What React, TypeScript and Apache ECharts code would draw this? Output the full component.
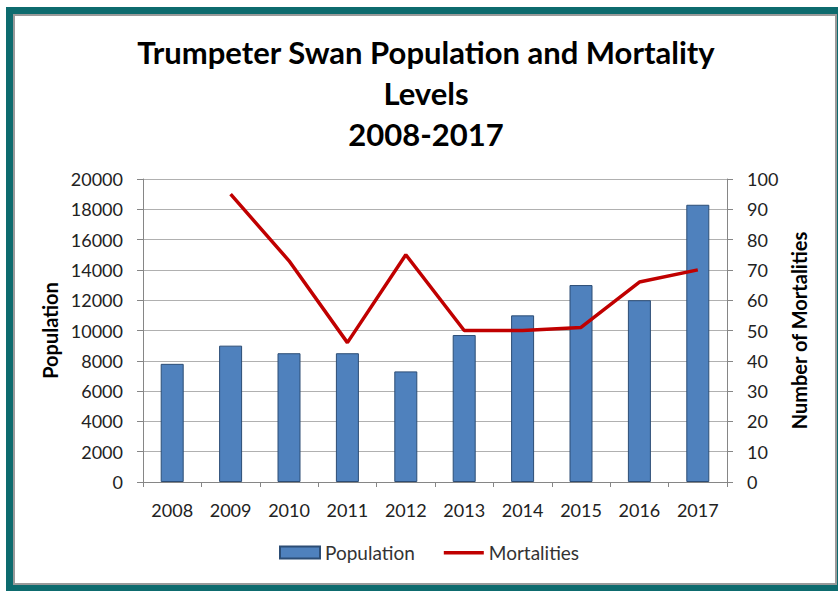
import React, { useEffect, useRef } from "react";
import * as echarts from "echarts";

const years = ["2008", "2009", "2010", "2011", "2012", "2013", "2014", "2015", "2016", "2017"];
const population = [7800, 9000, 8500, 8500, 7300, 9700, 11000, 13000, 12000, 18300];
const mortalities: (number | null)[] = [null, 95, 73, 46, 75, 50, 50, 51, 66, 70];
const titleLines = ["Trumpeter Swan Population and Mortality", "Levels", "2008-2017"];

const FONT = "Lato, 'Open Sans', sans-serif";

export default function App() {
  const ref = useRef<HTMLDivElement>(null);
  useEffect(() => {
    if (!ref.current) return;
    const chart = echarts.init(ref.current, null, { renderer: "svg" });
    const axisGrey = "#868686";
    chart.setOption({
      animation: false,
      backgroundColor: "#ffffff",
      textStyle: { fontFamily: FONT },
      graphic: {
        elements: [
          { type: "rect", z: -10, shape: { x: 6, y: 7, width: 860, height: 600 }, style: { fill: "#0D6B6E" } },
          { type: "rect", z: -9, shape: { x: 13, y: 14, width: 824, height: 571 }, style: { fill: "#9a9a9a" } },
          { type: "rect", z: -8, shape: { x: 15, y: 16, width: 820, height: 567 }, style: { fill: "#ffffff" } },
          {
            type: "text",
            z: 10,
            x: 426,
            y: 93,
            style: {
              text: titleLines.join("\n"),
              fontFamily: FONT,
              fontWeight: "bold",
              fontSize: 31,
              lineHeight: 41,
              fill: "#000000",
              align: "center",
              verticalAlign: "middle",
            },
          },
        ],
      },
      grid: { left: 143, right: 111, top: 179, bottom: 109, containLabel: false },
      legend: {
        left: 279,
        top: 543,
        padding: 0,
        itemWidth: 40,
        itemHeight: 12,
        itemGap: 29,
        textStyle: { fontFamily: FONT, fontSize: 19, color: "#333333" },
        data: [
          { name: "Population", icon: "rect" },
          {
            name: "Mortalities",
            icon: "path://M0,0 L40,0 M0,4.5 L40,4.5 L40,8 L0,8 Z M0,12 L40,12",
            itemStyle: { color: "#C00000", borderWidth: 0 },
          },
        ],
      },
      xAxis: {
        type: "category",
        data: years,
        boundaryGap: true,
        axisLine: { lineStyle: { color: axisGrey, width: 1 } },
        axisTick: { show: true, length: 5, lineStyle: { color: axisGrey } },
        axisLabel: { fontFamily: FONT, fontSize: 18, color: "#222222", margin: 19 },
      },
      yAxis: [
        {
          type: "value",
          min: 0,
          max: 20000,
          interval: 2000,
          name: "Population",
          nameLocation: "middle",
          nameRotate: 90,
          nameGap: 81,
          nameTextStyle: { fontFamily: FONT, fontWeight: "bold", fontSize: 20, color: "#000000" },
          axisLine: { show: true, lineStyle: { color: axisGrey } },
          axisTick: { show: true, length: 6, lineStyle: { color: axisGrey } },
          axisLabel: { fontFamily: FONT, fontSize: 18, color: "#222222", margin: 20, formatter: (v: number) => String(v) },
          splitLine: { show: true, lineStyle: { color: "#b0b0b0", width: 1 } },
        },
        {
          type: "value",
          min: 0,
          max: 100,
          interval: 10,
          position: "right",
          name: "Number of Mortalities",
          nameLocation: "middle",
          nameRotate: 90,
          nameGap: 61,
          nameTextStyle: { fontFamily: FONT, fontWeight: "bold", fontSize: 20, color: "#000000" },
          axisLine: { show: true, lineStyle: { color: axisGrey } },
          axisTick: { show: true, length: 6, lineStyle: { color: axisGrey } },
          axisLabel: { fontFamily: FONT, fontSize: 18, color: "#222222", margin: 20 },
          splitLine: { show: false },
        },
      ],
      series: [
        {
          name: "Population",
          type: "bar",
          data: population,
          barWidth: 23,
          itemStyle: { color: "#4F81BD", borderColor: "#2C4D75", borderWidth: 1 },
        },
        {
          name: "Mortalities",
          type: "line",
          yAxisIndex: 1,
          data: mortalities,
          showSymbol: false,
          symbol: "none",
          connectNulls: false,
          lineStyle: { color: "#C00000", width: 3.5 },
          itemStyle: { color: "#C00000" },
        },
      ],
    });
    return () => chart.dispose();
  }, []);
  return (
    <div
      ref={ref}
      style={{ position: "absolute", left: 0, top: 0, width: 838, height: 591 }}
    />
  );
}
